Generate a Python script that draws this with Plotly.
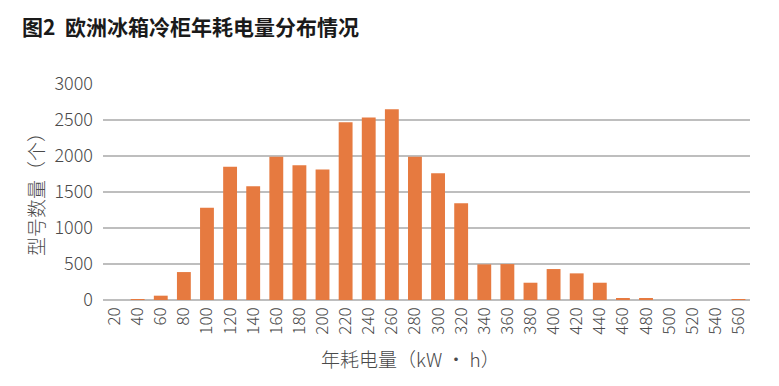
import plotly.graph_objects as go

categories = [str(v) for v in range(20, 561, 20)]
counts = [0, 5, 60, 388, 1280, 1849, 1581, 1988, 1872, 1812, 2468, 2533, 2648, 1990,
          1761, 1345, 495, 499, 240, 430, 370, 240, 28, 14, 0, 0, 0, 3]

title_text = "图2  欧洲冰箱冷柜年耗电量分布情况"
x_title = "年耗电量（kW · h）"
y_title = "型号数量（个）"

# page body has an 8px margin; lay out in page coordinates minus 8
OFF = 8
W, H = 779 - OFF, 386 - OFF
L, R, T, B = 103 - OFF, 29, 84 - OFF, 86
pw = W - L - R
ph = H - T - B

font = "Noto Sans CJK SC, Noto Sans, sans-serif"

fig = go.Figure(go.Bar(
    x=categories, y=counts,
    marker=dict(color="#E67A40", line=dict(width=0)),
    width=0.6,
))

fig.update_layout(
    width=W, height=H,
    margin=dict(l=L, r=R, t=T, b=B, autoexpand=False),
    paper_bgcolor="white", plot_bgcolor="white",
    showlegend=False,
    title=dict(text="<b>" + title_text + "</b>", x=(22 - OFF) / W, xanchor="left",
               y=1 - (28 - OFF) / H, yanchor="middle",
               font=dict(family=font, size=21, color="#1a1a1a")),
    xaxis=dict(type="category", tickangle=-90, showgrid=False, showline=False,
               ticks="", automargin=False,
               tickfont=dict(family=font, size=17, color="#4a4a4a", weight=300),
               ticklabelstandoff=3),
    yaxis=dict(range=[0, 3000], dtick=500, showgrid=True, gridcolor="#BEBEBE",
               gridwidth=1.5, zeroline=True, zerolinecolor="#BEBEBE", zerolinewidth=1.5,
               showline=False, ticks="", ticklabelstandoff=9, automargin=False,
               tickfont=dict(family=font, size=18, color="#4a4a4a", weight=300)),
    annotations=[
        dict(text=y_title, textangle=-90, xref="paper", yref="paper",
             x=(35 - OFF - L) / pw, y=(H - B - (190 - OFF)) / ph,
             xanchor="center", yanchor="middle",
             showarrow=False, font=dict(family=font, size=19, color="#4a4a4a", weight=300)),
        dict(text=x_title, xref="paper", yref="paper",
             x=(410 - OFF - L) / pw, y=(H - B - (358 - OFF)) / ph,
             xanchor="center", yanchor="middle",
             showarrow=False, font=dict(family=font, size=19, color="#4a4a4a", weight=300)),
    ],
)

fig.write_html("out.html")
